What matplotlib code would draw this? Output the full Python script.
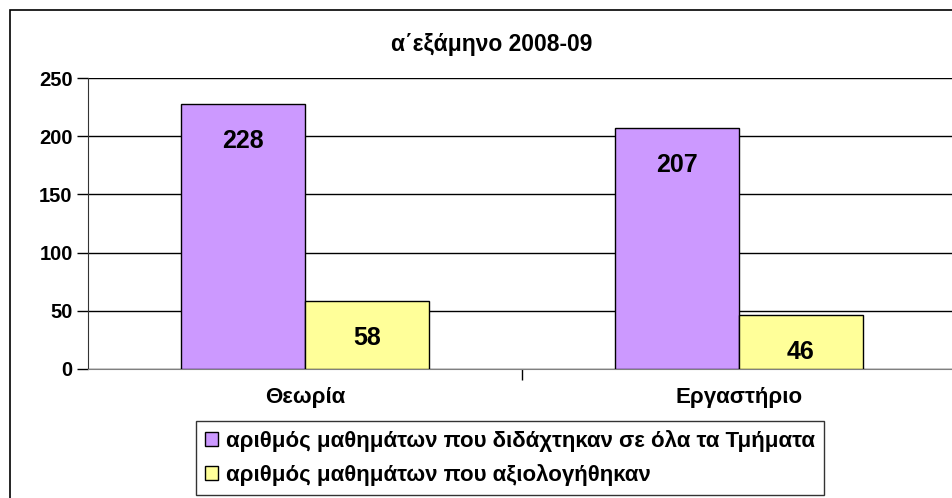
import matplotlib
matplotlib.use("Agg")
import matplotlib.pyplot as plt
from matplotlib.patches import Rectangle
import numpy as np

plt.rcParams['font.family'] = ['Liberation Sans', 'DejaVu Sans']
plt.rcParams['font.weight'] = 'bold'

title = "α΄εξάμηνο 2008-09"
categories = ["Θεωρία", "Εργαστήριο"]
series_names = ["αριθμός μαθημάτων που διδάχτηκαν σε όλα τα Τμήματα",
                "αριθμός μαθημάτων που αξιολογήθηκαν"]
taught = [228, 207]
evaluated = [58, 46]
colors = ["#CC99FF", "#FFFF99"]
yticks = [0, 50, 100, 150, 200, 250]

W, H = 953, 498
fig = plt.figure(figsize=(W / 100, H / 100), dpi=100)
ax = fig.add_axes([88 / W, 1 - 369 / H, (W - 88) / W, (369 - 78) / H])

x = np.arange(len(categories))
bw = 124 / 434
b1 = ax.bar(x - bw / 2, taught, bw, color=colors[0], edgecolor="black", linewidth=1, zorder=3,
            label=series_names[0])
b2 = ax.bar(x + bw / 2, evaluated, bw, color=colors[1], edgecolor="black", linewidth=1, zorder=3,
            label=series_names[1])

for bars, vals in ((b1, taught), (b2, evaluated)):
    for r, v in zip(bars, vals):
        ax.annotate(str(v), (r.get_x() + r.get_width() / 2, v), xytext=(0, -37),
                    textcoords="offset pixels", ha="center", va="center",
                    fontsize=18, fontweight="bold", zorder=4)

ax.set_xlim(-0.5, -0.5 + (W - 88) / 434)
ax.set_ylim(0, 250)
ax.set_yticks(yticks)
ax.set_yticklabels([str(t) for t in yticks], fontsize=14.5, fontweight="bold")
ax.yaxis.grid(True, color="black", linewidth=1, zorder=0)
ax.set_axisbelow(True)

ax.set_xticks([0.5], minor=False)
ax.set_xticklabels([])
ax.tick_params(axis="x", direction="out", length=8, width=1, color="black")
ax.tick_params(axis="y", direction="out", length=8, width=1, color="black", pad=3)
for i, c in enumerate(categories):
    ax.text(x[i], (369 - 398) / 291, c, transform=ax.get_xaxis_transform(), ha="center",
            va="center", fontsize=16, fontweight="bold")

for s in ["top", "right"]:
    ax.spines[s].set_visible(False)
ax.spines["left"].set_color("#333333")
ax.spines["bottom"].set_color("#808080")

fig.text(492 / W, 1 - 45 / H, title, ha="center", va="center", fontsize=16.5, fontweight="bold")

# outer chart border
fig.patches.append(Rectangle((10 / W, -0.1), 2, 1 - 10 / H + 0.1, transform=fig.transFigure,
                             fill=False, edgecolor="black", linewidth=1.2))

leg = fig.legend(handles=[b1, b2], labels=series_names, loc="upper left",
                 bbox_to_anchor=(196 / W, 1 - 421 / H), frameon=True, fancybox=False,
                 edgecolor="black", prop={"weight": "bold", "size": 16},
                 handlelength=0.6, handleheight=0.6, handletextpad=0.35,
                 labelspacing=0.55, borderpad=0.4, borderaxespad=0)
leg.get_frame().set_linewidth(1)

fig.savefig("out.png", dpi=100)
